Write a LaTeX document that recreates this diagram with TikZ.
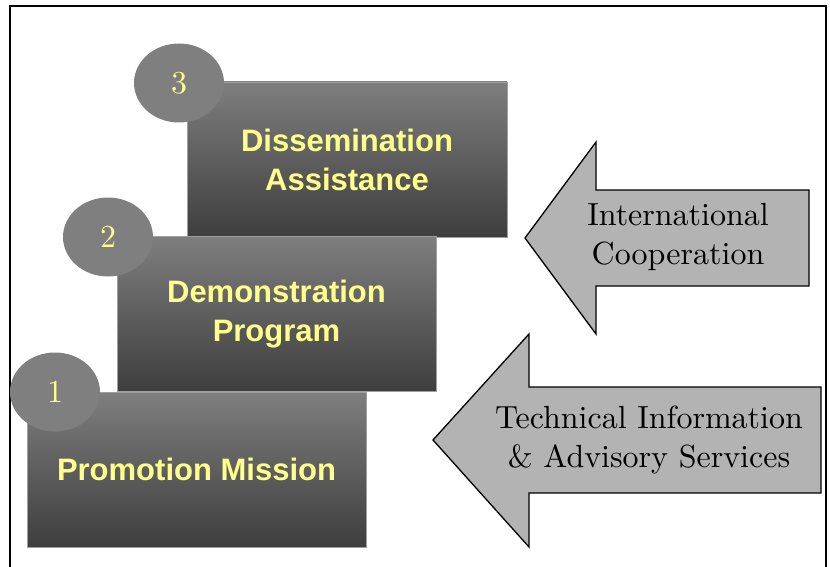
\documentclass[tikz,border=0pt]{standalone}
\usepackage{fontspec}
\setsansfont{Liberation Sans}
\newfontfamily\flowfont{lmroman10-regular.otf}
\usepackage{xcolor}
\usetikzlibrary{shapes.geometric,positioning}

\definecolor{boxtop}{RGB}{126,126,126}
\definecolor{boxbottom}{RGB}{62,62,62}
\definecolor{disc}{RGB}{127,127,127}
\definecolor{label}{RGB}{255,255,140}
\definecolor{arrowfill}{RGB}{179,179,179}

\begin{document}
\begin{tikzpicture}[x=1pt,y=-1pt,
    stage/.style={rectangle, draw=gray!75, line width=0.8pt, top color=boxtop, bottom color=boxbottom,
        minimum height=155pt, inner sep=0pt, text=label, align=center,
        font=\sffamily\bfseries\fontsize{31}{39}\selectfont},
    badge/.style={ellipse, fill=disc, minimum width=90pt, minimum height=79pt, inner sep=0pt,
        text=label, font=\flowfont\fontsize{32}{32}\selectfont},
    flow/.style={draw=black, line width=1.3pt, fill=arrowfill, line join=miter},
    flowtext/.style={align=center, font=\flowfont\fontsize{32}{39}\selectfont}]
    \useasboundingbox (0,0) rectangle (830,567);

    % Frame
    \begin{scope}
        \clip (0,0) rectangle (830,567);
        \draw[line width=1.6pt] (10,6) rectangle (826,600);
    \end{scope}

    % Stages
    \node[stage, minimum width=320pt] (dissemination) at (347,159.5) {Dissemination\\Assistance};
    \node[badge] (badge3) at (179,83) {3};
    \node[stage, minimum width=319pt] (demonstration) at (276.5,314) {Demonstration\\Program};
    \node[badge] (badge2) at (108,237) {2};
    \node[stage, minimum width=339pt] (promotion) at (196.5,469.5) {Promotion Mission};
    \node[badge] (badge1) at (55,392) {1};

    % Inputs
    \draw[flow] (525,238) -- (596,142) -- (596,190) -- (809,190) -- (809,286)
        -- (596,286) -- (596,334) -- cycle;
    \node[flowtext] (cooperation) at (678,237) {International\\Cooperation};
    \draw[flow] (433,440) -- (529,334) -- (529,387) -- (821,387) -- (821,493)
        -- (529,493) -- (529,547) -- cycle;
    \node[flowtext] (advisory) at (649,440) {Technical Information\\\& Advisory Services};
\end{tikzpicture}
\end{document}
